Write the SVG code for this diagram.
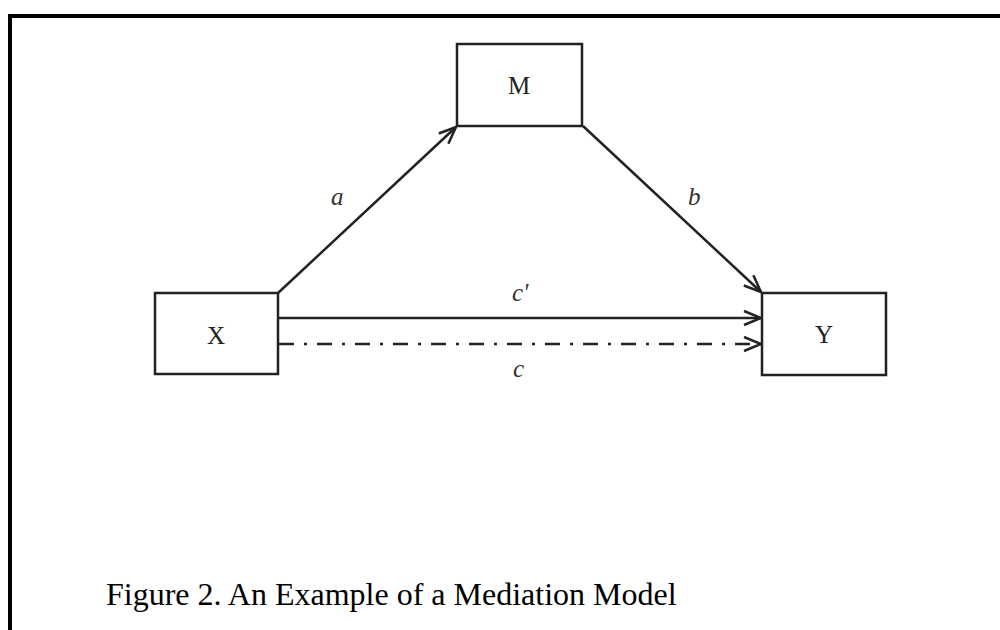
<svg xmlns="http://www.w3.org/2000/svg" width="1000" height="630" viewBox="0 0 1000 630">
<defs>
<style>
.box{fill:#fff;stroke:#222;stroke-width:2.5}
.node{font-family:"Liberation Serif","Times New Roman",serif;font-size:25px;fill:#222;text-anchor:middle}
.lab{font-family:"Liberation Serif","Times New Roman",serif;font-size:25px;font-style:italic;fill:#333}
.edge{fill:none;stroke:#222;stroke-width:2.5}
</style>
<marker id="arr" markerUnits="userSpaceOnUse" markerWidth="22" markerHeight="18" viewBox="0 0 22 18" refX="19" refY="9" orient="auto">
<path d="M2,2 L19,9 L2,16" fill="none" stroke="#222" stroke-width="2.5"/>
</marker>
</defs>
<rect width="1000" height="630" fill="#fff"/>
<path d="M10,630 V16 H1000" fill="none" stroke="#000" stroke-width="4"/>
<g id="connectors">
<line class="edge" x1="278" y1="293" x2="456" y2="127" marker-end="url(#arr)"/>
<line class="edge" x1="583" y1="126" x2="761" y2="292" marker-end="url(#arr)"/>
<line class="edge" x1="279" y1="318" x2="761" y2="318" marker-end="url(#arr)"/>
<line class="edge" x1="279" y1="344" x2="761" y2="344" stroke-width="3.2" stroke-dasharray="15 10 3 10" marker-end="url(#arr)"/>
<text class="lab" x="331" y="205">a</text>
<text class="lab" x="688" y="205">b</text>
<text class="lab" x="512" y="301">c'</text>
<text class="lab" x="513" y="377">c</text>
</g>
<g id="node-M">
<rect class="box" x="457" y="44" width="125" height="82"/>
<text class="node" x="519" y="94">M</text>
</g>
<g id="node-X">
<rect class="box" x="155" y="293" width="123" height="81"/>
<text class="node" x="216" y="344">X</text>
</g>
<g id="node-Y">
<rect class="box" x="762" y="293" width="124" height="82"/>
<text class="node" x="824" y="343">Y</text>
</g>
<text x="106" y="605" font-family="'Liberation Serif','Times New Roman',serif" font-size="32" fill="#000">Figure 2. An Example of a Mediation Model</text>
</svg>
